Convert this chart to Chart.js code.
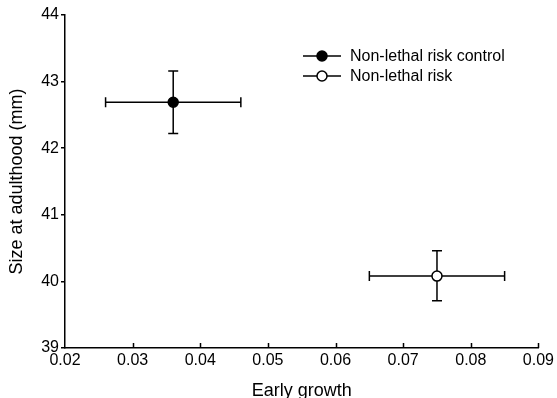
<!DOCTYPE html>
<html>
<head>
<meta charset="utf-8">
<script src="https://cdn.jsdelivr.net/npm/chart.js@4"></script>
<style>
  html, body { margin: 0; padding: 0; background: #fff; }
  #wrap { width: 557px; height: 398px; }
</style>
</head>
<body>
<div id="wrap"><canvas id="chart" width="557" height="398"></canvas></div>
<script>
// data
const seriesNames = ['Non-lethal risk control', 'Non-lethal risk'];
const earlyGrowth = [0.036, 0.075];
const earlyGrowthLow = [0.026, 0.065];
const earlyGrowthHigh = [0.046, 0.085];
const adultSize = [42.69, 40.08];
const adultSizeLow = [42.22, 39.71];
const adultSizeHigh = [43.16, 40.46];
const xTicks = [0.02, 0.03, 0.04, 0.05, 0.06, 0.07, 0.08, 0.09];
const yTicks = [39, 40, 41, 42, 43, 44];
const fills = ['#000000', '#ffffff'];

const FONT = 'Arial, "Liberation Sans", Helvetica, sans-serif';

// error bars, drawn under the markers
const errorBars = {
  id: 'errorBars',
  beforeDatasetsDraw(chart) {
    const ctx = chart.ctx, xs = chart.scales.x, ys = chart.scales.y;
    ctx.save();
    ctx.strokeStyle = '#000';
    ctx.lineWidth = 1.5;
    for (let i = 0; i < earlyGrowth.length; i++) {
      const cx = xs.getPixelForValue(earlyGrowth[i]);
      const cy = ys.getPixelForValue(adultSize[i]);
      const x0 = xs.getPixelForValue(earlyGrowthLow[i]);
      const x1 = xs.getPixelForValue(earlyGrowthHigh[i]);
      const y0 = ys.getPixelForValue(adultSizeLow[i]);
      const y1 = ys.getPixelForValue(adultSizeHigh[i]);
      ctx.beginPath();
      ctx.moveTo(x0, cy); ctx.lineTo(x1, cy);
      ctx.moveTo(x0, cy - 5); ctx.lineTo(x0, cy + 5);
      ctx.moveTo(x1, cy - 5); ctx.lineTo(x1, cy + 5);
      ctx.moveTo(cx, y0); ctx.lineTo(cx, y1);
      ctx.moveTo(cx - 5, y0); ctx.lineTo(cx + 5, y0);
      ctx.moveTo(cx - 5, y1); ctx.lineTo(cx + 5, y1);
      ctx.stroke();
    }
    ctx.restore();
  }
};

// x ticks point into the plot
const innerTicks = {
  id: 'innerTicks',
  afterDraw(chart) {
    const ctx = chart.ctx, xs = chart.scales.x;
    const b = chart.chartArea.bottom;
    ctx.save();
    ctx.strokeStyle = '#000';
    ctx.lineWidth = 1.5;
    ctx.beginPath();
    xTicks.forEach(v => {
      if (v === xTicks[0]) return;
      const px = Math.round(xs.getPixelForValue(v)) + 0.5;
      ctx.moveTo(px, b); ctx.lineTo(px, b - 5);
    });
    ctx.stroke();
    ctx.restore();
  }
};

// legend with line + marker
const lineLegend = {
  id: 'lineLegend',
  afterDraw(chart) {
    const ctx = chart.ctx;
    ctx.save();
    ctx.font = '16px ' + FONT;
    ctx.textBaseline = 'middle';
    chart.data.datasets.forEach((ds, i) => {
      const y = 56 + i * 20;
      ctx.strokeStyle = '#000';
      ctx.lineWidth = 1.5;
      ctx.beginPath();
      ctx.moveTo(303, y); ctx.lineTo(341, y);
      ctx.stroke();
      ctx.beginPath();
      ctx.arc(322, y, 5, 0, Math.PI * 2);
      ctx.fillStyle = ds.backgroundColor;
      ctx.fill();
      ctx.stroke();
      ctx.fillStyle = '#000';
      ctx.fillText(ds.label, 350, y + 1);
    });
    ctx.restore();
  }
};

new Chart(document.getElementById('chart'), {
  type: 'scatter',
  data: {
    datasets: seriesNames.map((name, i) => ({
      label: name,
      data: [{ x: earlyGrowth[i], y: adultSize[i] }],
      backgroundColor: fills[i],
      borderColor: '#000',
      borderWidth: 1.5,
      pointRadius: 5,
      pointHoverRadius: 5
    }))
  },
  options: {
    responsive: false,
    animation: false,
    layout: { padding: { left: 0, right: 17, top: 15, bottom: 0 } },
    plugins: { legend: { display: false }, tooltip: { enabled: false } },
    scales: {
      x: {
        type: 'linear',
        min: 0.02,
        max: 0.09,
        afterBuildTicks: s => { s.ticks = xTicks.map(v => ({ value: v })); },
        afterFit: s => { s.height = 50; },
        grid: { display: true, drawOnChartArea: false, drawTicks: false },
        border: { color: '#000', width: 1.5 },
        ticks: {
          color: '#000',
          font: { family: FONT, size: 16 },
          padding: 3,
          callback: v => v.toFixed(2)
        },
        title: {
          display: true,
          text: 'Early growth',
          color: '#000',
          font: { family: FONT, size: 18 },
          padding: { top: 0, bottom: -4 }
        }
      },
      y: {
        type: 'linear',
        min: 39,
        max: 44,
        afterBuildTicks: s => { s.ticks = yTicks.map(v => ({ value: v })); },
        afterFit: s => { s.width = 65; },
        grid: { display: true, drawOnChartArea: false, color: '#000', lineWidth: 1.5, tickLength: 4 },
        border: { color: '#000', width: 1.5 },
        ticks: {
          color: '#000',
          font: { family: FONT, size: 16 },
          padding: 2,
          callback: v => String(v)
        },
        title: {
          display: true,
          text: 'Size at adulthood (mm)',
          color: '#000',
          font: { family: FONT, size: 18 },
          padding: { top: 6, bottom: 0 }
        }
      }
    }
  },
  plugins: [errorBars, innerTicks, lineLegend]
});
</script>
</body>
</html>
